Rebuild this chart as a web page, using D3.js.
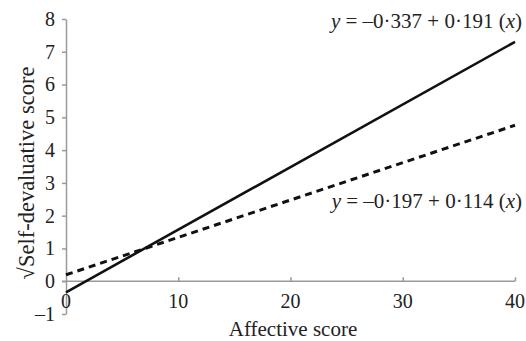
<!DOCTYPE html>
<html lang="en">
<head>
  <meta charset="utf-8">
  <title>Affective vs self-devaluative score</title>
  <script src="https://d3js.org/d3.v7.min.js"></script>
  <style>
    body { margin: 0; background: #fff; }
  </style>
</head>
<body>
<svg width="526" height="341"></svg>
<script>
  // regression lines
  var lineNames = ["solid", "dashed"];
  var intercepts = [-0.337, 0.197];
  var slopes = [0.191, 0.114];
  var coefText = [["0\u00b7337", "0\u00b7191"], ["0\u00b7197", "0\u00b7114"]];
  var xTicks = [0, 10, 20, 30, 40];
  var yTicks = [-1, 0, 1, 2, 3, 4, 5, 6, 7, 8];
  var xRange = [0, 40];

  var serif = "'Liberation Serif', 'Times New Roman', serif";

  var svg = d3.select("svg").style("font-family", serif),
    x = d3.scaleLinear().domain([0, 40]).range([66, 515]),
    y = d3.scaleLinear().domain([-1, 8]).range([314, 19]),
    axisColor = "#9a9a9a";

  // y axis, ticks pointing left
  var gy = svg.append("g").attr("transform", "translate(" + x(0) + ",0)")
    .call(d3.axisLeft(y).tickValues(yTicks).tickSize(4).tickSizeOuter(0)
      .tickFormat(d => d < 0 ? "\u2013" + Math.abs(d) : d));
  gy.select(".domain").attr("stroke", axisColor).attr("stroke-width", 1.5);
  gy.selectAll(".tick line").attr("stroke", axisColor).attr("stroke-width", 1.5);
  gy.selectAll(".tick text")
    .attr("x", -11)
    .style("font-family", serif)
    .style("font-size", "20px")
    .attr("fill", "#222");

  // x axis sits at y = 0, ticks pointing up
  var gx = svg.append("g").attr("transform", "translate(0," + y(0) + ")")
    .call(d3.axisTop(x).tickValues(xTicks.slice(1)).tickSize(4).tickSizeOuter(0).tickFormat(""));
  gx.select(".domain").attr("stroke", axisColor).attr("stroke-width", 1.5)
    .attr("d", "M" + (x(0) - 4) + ",0H" + x(40));
  gx.selectAll(".tick line").attr("stroke", axisColor).attr("stroke-width", 1.5);

  svg.append("g").selectAll("text").data(xTicks).join("text")
    .attr("x", d => x(d))
    .attr("y", 308)
    .attr("text-anchor", "middle")
    .style("font-family", serif)
    .style("font-size", "20px")
    .attr("fill", "#222")
    .text(d => d);

  // lines
  var line = d3.line().x(d => x(d[0])).y(d => y(d[1]));
  lineNames.forEach(function(name, i) {
    var pts = xRange.map(v => [v, intercepts[i] + slopes[i] * v]);
    svg.append("path")
      .attr("d", line(pts))
      .attr("fill", "none")
      .attr("stroke", "#111")
      .attr("stroke-width", name == "dashed" ? 3 : 2.6)
      .attr("stroke-dasharray", name == "dashed" ? "7,5" : null);
  });

  // equation labels
  var labelY = [28, 208];
  coefText.forEach(function(c, i) {
    var t = svg.append("text")
      .attr("x", 522)
      .attr("y", labelY[i])
      .attr("text-anchor", "end")
      .style("font-family", serif)
      .style("font-size", "21px")
      .attr("fill", "#222");
    t.append("tspan").style("font-style", "italic").text("y");
    t.append("tspan").text(" = \u2013" + c[0] + " + " + c[1] + " (");
    t.append("tspan").style("font-style", "italic").text("x");
    t.append("tspan").text(")");
  });

  // axis titles
  svg.append("text")
    .attr("x", 293)
    .attr("y", 336)
    .attr("text-anchor", "middle")
    .style("font-family", serif)
    .style("font-size", "21px")
    .attr("fill", "#222")
    .text("Affective score");

  svg.append("text")
    .attr("transform", "translate(34,173) rotate(-90)")
    .attr("text-anchor", "middle")
    .style("font-family", serif)
    .style("font-size", "22.5px")
    .attr("fill", "#222")
    .text("\u221aSelf-devaluative score");
</script>
</body>
</html>
